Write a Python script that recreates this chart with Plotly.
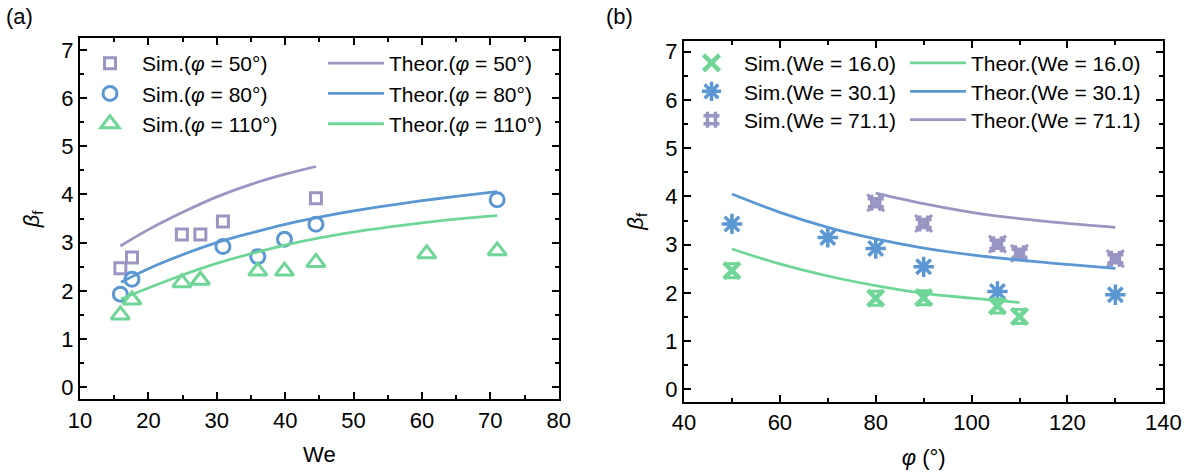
import plotly.graph_objects as go

# ---------------- data: panel (a) ----------------
we_sim50 = [15.9, 17.6, 24.9, 27.6, 30.9, 44.5]
beta_sim50 = [2.47, 2.69, 3.17, 3.17, 3.44, 3.92]
we_sim80 = [15.9, 17.6, 30.9, 36.0, 39.9, 44.5, 71.0]
beta_sim80 = [1.93, 2.24, 2.92, 2.71, 3.07, 3.38, 3.89]
we_sim110 = [15.9, 17.6, 24.9, 27.6, 36.0, 39.9, 44.5, 60.7, 71.0]
beta_sim110 = [1.50, 1.81, 2.17, 2.22, 2.41, 2.41, 2.59, 2.77, 2.83]

we_th50 = [15.9, 20, 25, 30, 35, 40, 44.5]
beta_th50 = [2.93, 3.27, 3.63, 3.95, 4.21, 4.42, 4.58]
we_th80 = [16, 20, 25, 30, 35, 40, 45, 50, 55, 60, 65, 71]
beta_th80 = [2.18, 2.46, 2.75, 3.00, 3.20, 3.38, 3.53, 3.66, 3.77, 3.87, 3.96, 4.06]
we_th110 = [16, 20, 25, 30, 35, 40, 45, 50, 55, 60, 65, 71]
beta_th110 = [1.83, 2.06, 2.33, 2.57, 2.77, 2.95, 3.10, 3.22, 3.32, 3.41, 3.49, 3.56]

# ---------------- data: panel (b) ----------------
phi_sim16 = [50, 80, 90, 105.4, 110]
beta_sim16 = [2.46, 1.89, 1.90, 1.73, 1.51]
phi_sim30 = [50, 70, 80, 90, 105.4, 130]
beta_sim30 = [3.43, 3.15, 2.92, 2.54, 2.03, 1.96]
phi_sim71 = [80, 90, 105.4, 110, 130]
beta_sim71 = [3.87, 3.44, 3.01, 2.82, 2.71]

phi_th16 = [50, 60, 70, 80, 90, 100, 110]
beta_th16 = [2.91, 2.60, 2.35, 2.15, 1.99, 1.89, 1.80]
phi_th30 = [50, 60, 70, 80, 90, 100, 110, 120, 130]
beta_th30 = [4.05, 3.67, 3.36, 3.12, 2.93, 2.79, 2.68, 2.59, 2.51]
phi_th71 = [80, 90, 100, 110, 120, 130]
beta_th71 = [4.07, 3.85, 3.67, 3.54, 3.44, 3.36]

PURPLE = "#9996c3"
BLUE = "#5b97d3"
GREEN = "#6fd697"
FONT = "Liberation Sans, Arial, sans-serif"

fig = go.Figure()

# panel (a) simulation markers
fig.add_trace(go.Scatter(x=we_sim50, y=beta_sim50, mode="markers", name="Sim.(<i>φ</i> = 50°)",
                         marker=dict(symbol="square-open", size=11, color=PURPLE, line=dict(width=3)),
                         xaxis="x", yaxis="y", legend="legend"))
fig.add_trace(go.Scatter(x=we_sim80, y=beta_sim80, mode="markers", name="Sim.(<i>φ</i> = 80°)",
                         marker=dict(symbol="circle-open", size=14, color=BLUE, line=dict(width=3)),
                         xaxis="x", yaxis="y", legend="legend"))
fig.add_trace(go.Scatter(x=we_sim110, y=beta_sim110, mode="markers", name="Sim.(<i>φ</i> = 110°)",
                         marker=dict(symbol="triangle-up-open", size=16, color=GREEN, line=dict(width=3)),
                         xaxis="x", yaxis="y", legend="legend"))
# panel (a) theory lines
fig.add_trace(go.Scatter(x=we_th50, y=beta_th50, mode="lines", name="Theor.(<i>φ</i> = 50°)",
                         line=dict(color=PURPLE, width=2.8, shape="spline", smoothing=1.0),
                         xaxis="x", yaxis="y", legend="legend2"))
fig.add_trace(go.Scatter(x=we_th80, y=beta_th80, mode="lines", name="Theor.(<i>φ</i> = 80°)",
                         line=dict(color=BLUE, width=2.8, shape="spline", smoothing=1.0),
                         xaxis="x", yaxis="y", legend="legend2"))
fig.add_trace(go.Scatter(x=we_th110, y=beta_th110, mode="lines", name="Theor.(<i>φ</i> = 110°)",
                         line=dict(color=GREEN, width=2.8, shape="spline", smoothing=1.0),
                         xaxis="x", yaxis="y", legend="legend2"))

# panel (b) simulation markers
fig.add_trace(go.Scatter(x=phi_sim16, y=beta_sim16, mode="markers", name="Sim.(We = 16.0)",
                         marker=dict(symbol="x-thin-open", size=16, color=GREEN, line=dict(width=4.5, color=GREEN)),
                         xaxis="x2", yaxis="y2", legend="legend3"))
fig.add_trace(go.Scatter(x=phi_sim30, y=beta_sim30, mode="markers", name="Sim.(We = 30.1)",
                         marker=dict(symbol="asterisk-open", size=17, color=BLUE, line=dict(width=3.5, color=BLUE)),
                         xaxis="x2", yaxis="y2", legend="legend4"))
fig.add_trace(go.Scatter(x=phi_sim71, y=beta_sim71, mode="markers", name="Sim.(We = 71.1)",
                         marker=dict(symbol="hash-open", size=16, color=PURPLE, line=dict(width=3.5, color=PURPLE)),
                         xaxis="x2", yaxis="y2", legend="legend5"))
# overlay details for compound markers
fig.add_trace(go.Scatter(x=phi_sim16, y=beta_sim16, mode="markers", showlegend=False, hoverinfo="skip",
                         marker=dict(symbol="hourglass-open", size=14, color=GREEN, line=dict(width=3, color=GREEN)),
                         xaxis="x2", yaxis="y2"))
fig.add_trace(go.Scatter(x=phi_sim71, y=beta_sim71, mode="markers", showlegend=False, hoverinfo="skip",
                         marker=dict(symbol="x-thin-open", size=17, color=PURPLE, line=dict(width=3, color=PURPLE)),
                         xaxis="x2", yaxis="y2"))
# panel (b) theory lines
fig.add_trace(go.Scatter(x=phi_th16, y=beta_th16, mode="lines", name="Theor.(We = 16.0)",
                         line=dict(color=GREEN, width=2.8, shape="spline", smoothing=1.0),
                         xaxis="x2", yaxis="y2", legend="legend6"))
fig.add_trace(go.Scatter(x=phi_th30, y=beta_th30, mode="lines", name="Theor.(We = 30.1)",
                         line=dict(color=BLUE, width=2.8, shape="spline", smoothing=1.0),
                         xaxis="x2", yaxis="y2", legend="legend7"))
fig.add_trace(go.Scatter(x=phi_th71, y=beta_th71, mode="lines", name="Theor.(We = 71.1)",
                         line=dict(color=PURPLE, width=2.8, shape="spline", smoothing=1.0),
                         xaxis="x2", yaxis="y2", legend="legend8"))

W, H = 1199, 475

def px_x(p):
    return p / W

def px_y(p):
    return 1 - p / H

axis_common = dict(
    showline=True, linecolor="black", linewidth=2, mirror="ticks",
    ticks="inside", ticklen=7, tickwidth=1.5, tickcolor="black",
    showgrid=False, zeroline=False, automargin=False,
    tickfont=dict(family=FONT, size=22, color="black"),
)
minor_common = dict(ticks="inside", ticklen=4, tickcolor="black", tickwidth=1.5, showgrid=False)


def legend_box(x, y, iw, yanchor="top"):
    return dict(x=px_x(x), y=px_y(y), xanchor="left", yanchor=yanchor, bgcolor="rgba(0,0,0,0)",
                font=dict(family=FONT, size=21), tracegroupgap=0, itemwidth=iw)


fig.update_layout(
    width=W, height=H,
    margin=dict(l=0, r=0, t=0, b=0, autoexpand=False),
    paper_bgcolor="white", plot_bgcolor="white",
    font=dict(family=FONT, size=21, color="black"),
    xaxis=dict(domain=[px_x(80), px_x(558.7)], range=[10, 80], dtick=10, anchor="y",
               minor=dict(dtick=5, **minor_common),
               title=dict(text="We", font=dict(family=FONT, size=22), standoff=15),
               **axis_common),
    yaxis=dict(domain=[px_y(399.3), px_y(38.3)], range=[-0.25, 7.24], dtick=1, anchor="x",
               minor=dict(dtick=0.5, **minor_common),
               title=dict(text="<i>β</i><sub>f</sub>", font=dict(family=FONT, size=22), standoff=16),
               **axis_common),
    xaxis2=dict(domain=[px_x(684), px_x(1163.3)], range=[40, 140], dtick=20, anchor="y2",
                minor=dict(dtick=10, **minor_common),
                title=dict(text="<i>φ</i> (°)", font=dict(family=FONT, size=22), standoff=16),
                **axis_common),
    yaxis2=dict(domain=[px_y(401.7), px_y(40.7)], range=[-0.257, 7.23], dtick=1, anchor="x2",
                minor=dict(dtick=0.5, **minor_common),
                title=dict(text="<i>β</i><sub>f</sub>", font=dict(family=FONT, size=22), standoff=16),
                **axis_common),
    legend=legend_box(78, 43, 54),
    legend2=legend_box(323, 43, 56),
    legend3=legend_box(679, 63.3, 55, "middle"),
    legend4=legend_box(679, 91.7, 55, "middle"),
    legend5=legend_box(679, 120, 55, "middle"),
    legend6=legend_box(905, 63.3, 56, "middle"),
    legend7=legend_box(905, 91.7, 56, "middle"),
    legend8=legend_box(905, 120, 56, "middle"),
    annotations=[
        dict(text="(a)", x=px_x(4), y=px_y(17), xref="paper", yref="paper", xanchor="left", yanchor="middle",
             showarrow=False, font=dict(family=FONT, size=22, color="black")),
        dict(text="(b)", x=px_x(604), y=px_y(17), xref="paper", yref="paper", xanchor="left", yanchor="middle",
             showarrow=False, font=dict(family=FONT, size=22, color="black")),
    ],
)

fig.write_html("out.html", config={"displayModeBar": False},
               post_script="document.body.style.margin='0';document.body.style.overflow='hidden';")
